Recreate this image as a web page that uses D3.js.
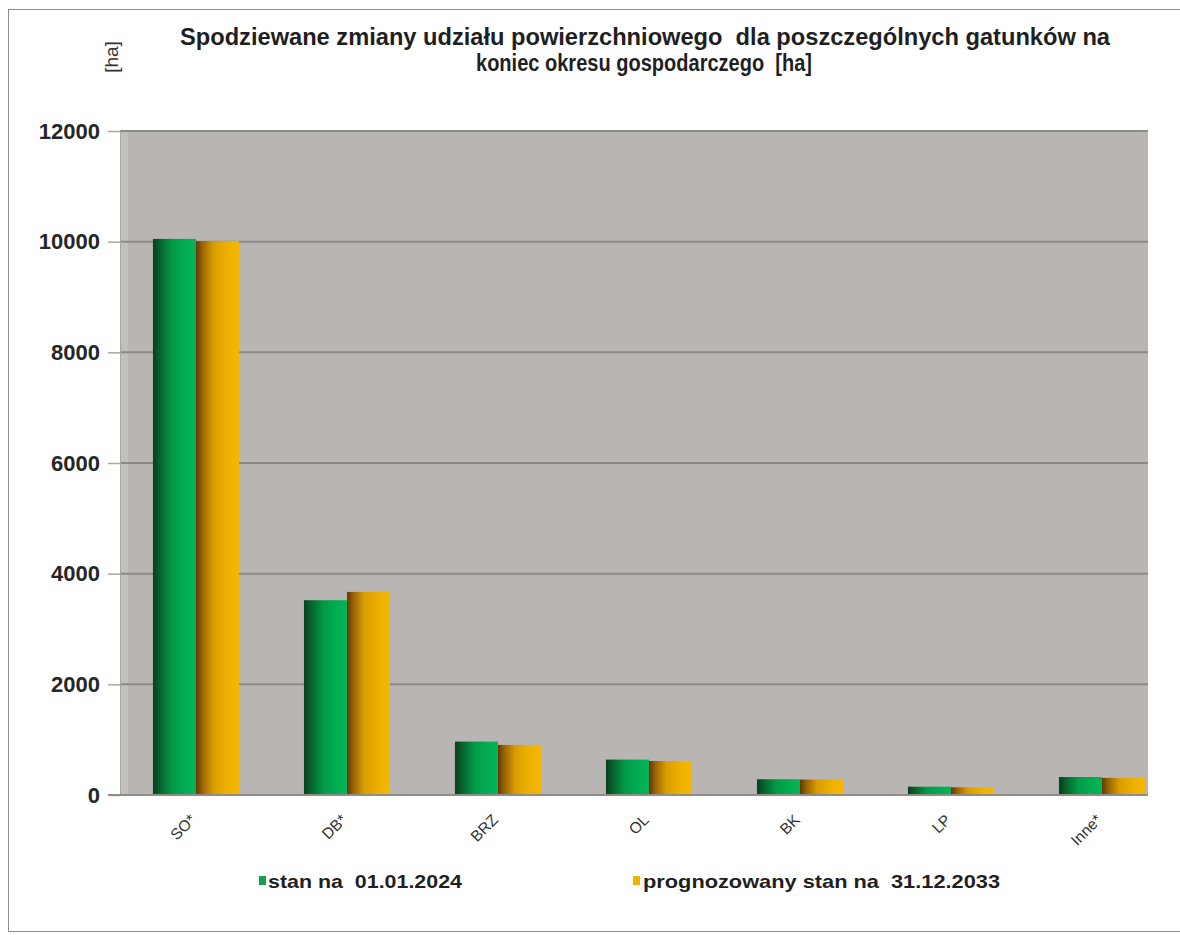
<!DOCTYPE html>
<html>
<head>
<meta charset="utf-8">
<script src="https://cdn.jsdelivr.net/npm/d3@7"></script>
<style>
  html, body { margin: 0; padding: 0; background: #ffffff; }
  svg { display: block; font-family: "Liberation Sans", Arial, sans-serif; }
  svg text { white-space: pre; }
</style>
</head>
<body>
<svg id="chart" width="1180" height="935"></svg>
<script>
// Species and area values [ha]
const categories = ["SO*", "DB*", "BRZ", "OL", "BK", "LP", "Inne*"];
const stan2024 = [10050, 3520, 965, 640, 285, 150, 325];
const prognoza2033 = [10010, 3670, 905, 615, 280, 140, 310];
const seriesNames = ["stan na  01.01.2024", "prognozowany stan na  31.12.2033"];
const yTicks = [0, 2000, 4000, 6000, 8000, 10000, 12000];

const svg = d3.select("#chart");
const plot = { left: 120, right: 1148, top: 131, bottom: 795 };

// outer chart frame
svg.append("rect")
  .attr("x", 8.5).attr("y", 9.5)
  .attr("width", 1200).attr("height", 922)
  .attr("fill", "#ffffff")
  .attr("stroke", "#8c8c8c").attr("stroke-width", 1);

const y = d3.scaleLinear().domain([0, 12000]).range([plot.bottom, plot.top]);
const x0 = d3.scaleBand().domain(categories)
  .range([120.5, 1177.5]).paddingInner(0.43).paddingOuter(0.215);
const x1 = d3.scaleBand().domain([0, 1]).range([0, x0.bandwidth()]);

// gradients giving bars a rounded look
const defs = svg.append("defs");
function grad(id, stops) {
  const g = defs.append("linearGradient").attr("id", id)
    .attr("x1", "0%").attr("x2", "100%").attr("y1", "0%").attr("y2", "0%");
  stops.forEach(s => g.append("stop").attr("offset", s[0]).attr("stop-color", s[1]));
}
grad("gGreen", [["0%", "#0a3f1c"], ["18%", "#07662f"], ["45%", "#039a47"], ["75%", "#00ad52"], ["100%", "#0bb257"]]);
grad("gGold", [["0%", "#5e3a08"], ["15%", "#9a6406"], ["40%", "#d99d02"], ["75%", "#efb200"], ["100%", "#f4b700"]]);
const fills = ["url(#gGreen)", "url(#gGold)"];
const legendColors = ["#14a04c", "#f0b400"];

// plot background
svg.append("rect")
  .attr("x", plot.left).attr("y", plot.top)
  .attr("width", plot.right - plot.left).attr("height", plot.bottom - plot.top)
  .attr("fill", "#b9b5b2");
svg.append("rect")
  .attr("x", plot.left).attr("y", plot.top)
  .attr("width", 8).attr("height", plot.bottom - plot.top)
  .attr("fill", "#c3bfbd");

// gridlines
svg.append("g").selectAll("line")
  .data(yTicks.filter(t => t > 0))
  .join("line")
  .attr("x1", plot.left).attr("x2", plot.right)
  .attr("y1", d => y(d)).attr("y2", d => y(d))
  .attr("stroke", "#8b8886").attr("stroke-width", 2);

// y axis
const yAxis = svg.append("g")
  .attr("transform", `translate(${plot.left},0)`)
  .call(d3.axisLeft(y).tickValues(yTicks).tickSize(12).tickPadding(8).tickFormat(d3.format("d")));
yAxis.select(".domain").attr("stroke", "#a8a5a3").attr("stroke-width", 1);
yAxis.selectAll(".tick line").attr("stroke", "#a8a5a3").attr("stroke-width", 1.5);
yAxis.selectAll(".tick text")
  .attr("font-size", 22).attr("font-weight", "bold").attr("fill", "#262626")
  .attr("font-family", "Liberation Sans, Arial, sans-serif");

// bars
const rows = categories.map((c, i) => ({ c, v: [stan2024[i], prognoza2033[i]] }));
const groups = svg.append("g").selectAll("g")
  .data(rows).join("g")
  .attr("transform", d => `translate(${x0(d.c)},0)`);
groups.selectAll("rect")
  .data(d => d.v.map((v, s) => ({ v, s })))
  .join("rect")
  .attr("x", d => x1(d.s))
  .attr("width", x1.bandwidth())
  .attr("y", d => y(d.v))
  .attr("height", d => y(0) - y(d.v))
  .attr("fill", d => fills[d.s]);

// baseline
svg.append("line")
  .attr("x1", plot.left - 12).attr("x2", plot.right)
  .attr("y1", plot.bottom).attr("y2", plot.bottom)
  .attr("stroke", "#8f8c8a").attr("stroke-width", 2);

// x labels, rotated
svg.append("g").selectAll("text")
  .data(categories).join("text")
  .attr("transform", d => `translate(${x0(d) + x0.bandwidth() / 2 - 3},${plot.bottom + 22}) rotate(-45)`)
  .attr("text-anchor", "end")
  .attr("dy", "0.35em")
  .attr("font-size", 15.5).attr("fill", "#333")
  .text(d => d);

// title
const title = svg.append("text")
  .attr("text-anchor", "middle").attr("font-weight", "bold")
  .attr("font-size", 23).attr("fill", "#1f1f1f");
title.append("tspan").attr("x", 645).attr("y", 45)
  .attr("textLength", 930).attr("lengthAdjust", "spacingAndGlyphs")
  .text("Spodziewane zmiany udziału powierzchniowego  dla poszczególnych gatunków na");
title.append("tspan").attr("x", 644).attr("y", 71)
  .attr("textLength", 336).attr("lengthAdjust", "spacingAndGlyphs")
  .text("koniec okresu gospodarczego  [ha]");

// y axis unit label
svg.append("text")
  .attr("transform", "translate(118,57) rotate(-90)")
  .attr("text-anchor", "middle")
  .attr("font-size", 19).attr("fill", "#333")
  .text("[ha]");

// legend
const legendPos = [{ x: 262, tx: 268, len: 194 }, { x: 636, tx: 643, len: 357 }];
const legend = svg.append("g").selectAll("g")
  .data(seriesNames).join("g");
legend.append("rect")
  .attr("x", (d, i) => legendPos[i].x - 3).attr("y", 876)
  .attr("width", 7).attr("height", 9)
  .attr("fill", (d, i) => legendColors[i]);
legend.append("text")
  .attr("x", (d, i) => legendPos[i].tx).attr("y", 888)
  .attr("font-size", 19).attr("font-weight", "bold").attr("fill", "#1f1f1f")
  .attr("textLength", (d, i) => legendPos[i].len).attr("lengthAdjust", "spacingAndGlyphs")
  .text(d => d);
</script>
</body>
</html>
